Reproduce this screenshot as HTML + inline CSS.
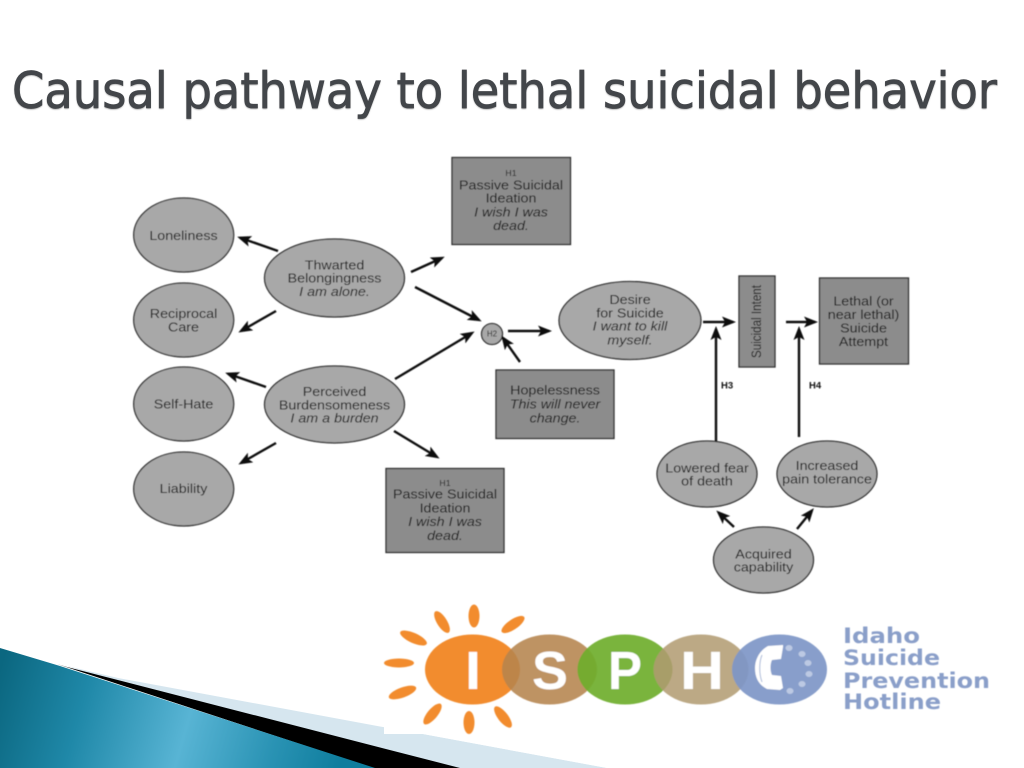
<!DOCTYPE html>
<html>
<head>
<meta charset="utf-8">
<style>
html,body{margin:0;padding:0;background:#fff;width:1024px;height:768px;overflow:hidden}
svg{display:block}
.t{font-family:"Liberation Sans",sans-serif;font-size:13px;fill:#151515;text-anchor:middle}
.i{font-style:italic}
.s{font-size:8px}
.b{font-weight:bold;font-size:9.5px;fill:#111;text-anchor:start}
.logo{font-family:"DejaVu Sans",sans-serif;font-weight:bold;font-size:21px;fill:#8a9fc9}
</style>
</head>
<body>
<svg width="1024" height="768" viewBox="0 0 1024 768" xmlns="http://www.w3.org/2000/svg">
<defs>
<linearGradient id="bg" gradientUnits="userSpaceOnUse" x1="0" y1="670" x2="340" y2="768">
<stop offset="0" stop-color="#0b6780"/>
<stop offset="0.25" stop-color="#1f88a8"/>
<stop offset="0.55" stop-color="#58b4d4"/>
<stop offset="0.8" stop-color="#2a93b4"/>
<stop offset="1" stop-color="#0e7d9d"/>
</linearGradient>
<marker id="a" markerUnits="userSpaceOnUse" markerWidth="16" markerHeight="12" refX="11" refY="6" orient="auto">
<path d="M0,0.5 L14,6 L0,11.5 L3,6 Z" fill="#111"/>
</marker>
<filter id="soft" x="-2%" y="-2%" width="104%" height="104%"><feGaussianBlur stdDeviation="0.4"/></filter>
<filter id="shadow" x="-2%" y="-20%" width="104%" height="140%"><feGaussianBlur stdDeviation="0.9"/></filter>
</defs>

<!-- bottom decoration -->
<polygon points="67,666 118,678 383,727 423,734 607,768 388,768" fill="#d6e6ef"/>
<polygon points="57,664 67,667 460,768 373,768" fill="#000"/>
<polygon points="0,648 60,666 375,768 0,768" fill="url(#bg)"/>
<rect x="384" y="600" width="640" height="134" fill="#fff"/>
<polygon points="423,734 1024,734 1024,768 607,768" fill="#fff"/>

<!-- title -->
<text x="12" y="109" font-family="'DejaVu Sans',sans-serif" font-size="50" fill="#9a9a9a" textLength="985" lengthAdjust="spacingAndGlyphs" filter="url(#shadow)">Causal pathway to lethal suicidal behavior</text>
<text x="12" y="108" font-family="'DejaVu Sans',sans-serif" font-size="50" fill="#43464a" stroke="#43464a" stroke-width="0.8" textLength="985" lengthAdjust="spacingAndGlyphs">Causal pathway to lethal suicidal behavior</text>

<!-- diagram -->
<g filter="url(#soft)">
<g fill="#a8a8a8" stroke="#2a2a2a" stroke-width="1.3">
<ellipse cx="183.7" cy="235" rx="50" ry="37"/>
<ellipse cx="183.7" cy="320" rx="50" ry="37"/>
<ellipse cx="183.7" cy="404" rx="50" ry="37"/>
<ellipse cx="183.7" cy="489" rx="50" ry="37"/>
<ellipse cx="334.5" cy="278" rx="70" ry="39"/>
<ellipse cx="334.5" cy="404.5" rx="70" ry="38.5"/>
<circle cx="492" cy="334" r="10.5"/>
<ellipse cx="630" cy="320.5" rx="71" ry="39"/>
<ellipse cx="707" cy="474" rx="50" ry="33"/>
<ellipse cx="827" cy="474" rx="50" ry="33"/>
<ellipse cx="763.5" cy="560" rx="50" ry="33"/>
</g>
<g fill="#8c8c8c" stroke="#2a2a2a" stroke-width="1.3">
<rect x="452" y="157.5" width="118.5" height="87"/>
<rect x="386" y="468.5" width="118" height="84"/>
<rect x="496" y="370" width="118" height="68.5"/>
<rect x="739" y="276" width="36" height="91"/>
<rect x="819.5" y="278" width="89" height="86"/>
</g>
<g stroke="#111" stroke-width="2.4" fill="none" marker-end="url(#a)">
<line x1="278" y1="251" x2="240" y2="237.7"/>
<line x1="276" y1="311" x2="241" y2="331"/>
<line x1="411" y1="272" x2="442" y2="258"/>
<line x1="415" y1="287" x2="479" y2="320"/>
<line x1="395" y1="379" x2="472" y2="333"/>
<line x1="508" y1="331" x2="549" y2="331"/>
<line x1="520" y1="362" x2="503" y2="338"/>
<line x1="266" y1="387" x2="228" y2="373.7"/>
<line x1="276" y1="443" x2="241" y2="463"/>
<line x1="394" y1="431" x2="437" y2="457"/>
<line x1="703" y1="322" x2="733" y2="322"/>
<line x1="786" y1="322" x2="815" y2="322"/>
<line x1="716" y1="441" x2="716" y2="329"/>
<line x1="799" y1="437" x2="799" y2="329"/>
<line x1="734" y1="527" x2="718.5" y2="512.5"/>
<line x1="797" y1="529" x2="812" y2="510.5"/>
</g>
<g class="t">
<g transform="translate(183.5,0) scale(1.1,1)"><text class="t" y="240">Loneliness</text><text class="t" y="318">Reciprocal</text><text class="t" y="331.5">Care</text><text class="t" y="408.7">Self-Hate</text><text class="t" y="493">Liability</text></g>
<g transform="translate(334.5,0) scale(1.1,1)"><text class="t" y="269.3">Thwarted</text><text class="t" y="282.7">Belongingness</text><text class="t i" y="296">I am alone.</text><text class="t" y="396">Perceived</text><text class="t" y="409.3">Burdensomeness</text><text class="t i" y="422.7">I am a burden</text></g>
<g transform="translate(511,0) scale(1.1,1)"><text class="t s" y="176">H1</text><text class="t" y="189.3">Passive Suicidal</text><text class="t" y="202.7">Ideation</text><text class="t i" y="216.3">I wish I was</text><text class="t i" y="230">dead.</text></g>
<g transform="translate(445,0) scale(1.1,1)"><text class="t s" y="486">H1</text><text class="t" y="498.7">Passive Suicidal</text><text class="t" y="512.7">Ideation</text><text class="t i" y="526">I wish I was</text><text class="t i" y="540">dead.</text></g>
<text class="t s" x="492" y="336.5">H2</text>
<g transform="translate(555,0) scale(1.1,1)"><text class="t" y="394.3">Hopelessness</text><text class="t i" y="408.3">This will never</text><text class="t i" y="422.3">change.</text></g>
<g transform="translate(630,0) scale(1.1,1)"><text class="t" y="304">Desire</text><text class="t" y="317.3">for Suicide</text><text class="t i" y="330.7">I want to kill</text><text class="t i" y="344.7">myself.</text></g>
<text class="t" transform="translate(761,321.5) rotate(-90)" x="-36.5" y="0" style="text-anchor:start;font-size:14px" textLength="73" lengthAdjust="spacingAndGlyphs">Suicidal Intent</text>
<g transform="translate(863.5,0) scale(1.1,1)"><text class="t" y="305.7">Lethal (or</text><text class="t" y="319">near lethal)</text><text class="t" y="332.7">Suicide</text><text class="t" y="346">Attempt</text></g>
<text class="t b" x="721" y="388.5">H3</text>
<text class="t b" x="809" y="388.5">H4</text>
<g transform="translate(707,0) scale(1.1,1)"><text class="t" y="472.3">Lowered fear</text><text class="t" y="485.5">of death</text></g>
<g transform="translate(827,0) scale(1.1,1)"><text class="t" y="470">Increased</text><text class="t" y="483.3">pain tolerance</text></g>
<g transform="translate(763.5,0) scale(1.1,1)"><text class="t" y="558.3">Acquired</text><text class="t" y="571.7">capability</text></g>
</g>
</g>

<!-- logo -->
<g filter="url(#soft)">
<g fill="#f28c2d">
<ellipse cx="474" cy="616" rx="5.5" ry="11.5"/>
<ellipse cx="442" cy="622" rx="5" ry="12.5" transform="rotate(-32 442 622)"/>
<ellipse cx="513" cy="624.5" rx="5" ry="13.5" transform="rotate(56 513 624.5)"/>
<ellipse cx="413.5" cy="638" rx="14.5" ry="5" transform="rotate(24 413.5 638)"/>
<ellipse cx="399" cy="663" rx="15" ry="4.5"/>
<ellipse cx="402.5" cy="692.5" rx="14.5" ry="5" transform="rotate(-20 402.5 692.5)"/>
<ellipse cx="432.5" cy="714" rx="5" ry="13" transform="rotate(40 432.5 714)"/>
<ellipse cx="469" cy="722.5" rx="5.5" ry="11.5"/>
<ellipse cx="503" cy="717" rx="5" ry="13" transform="rotate(-38 503 717)"/>
</g>
<g>
<ellipse cx="472.5" cy="669.5" rx="47.5" ry="35" fill="#f28c2d"/>
<ellipse cx="549.5" cy="669.5" rx="47.5" ry="35" fill="#b5844e" fill-opacity="0.88"/>
<ellipse cx="625" cy="669.5" rx="47.5" ry="35" fill="#6fae2e" fill-opacity="0.92"/>
<ellipse cx="701" cy="669.5" rx="47.5" ry="35" fill="#b09a70" fill-opacity="0.85"/>
<ellipse cx="779.5" cy="669.5" rx="47.5" ry="35" fill="#7f97c7" fill-opacity="0.93"/>
</g>
<g font-family="'Liberation Sans',sans-serif" font-weight="bold" font-size="54" fill="#fff" text-anchor="middle">
<text x="473" y="689" textLength="16" lengthAdjust="spacingAndGlyphs">I</text>
<text x="550" y="689" textLength="36" lengthAdjust="spacingAndGlyphs">S</text>
<text x="625" y="689" textLength="34" lengthAdjust="spacingAndGlyphs">P</text>
<text x="702" y="689" textLength="44" lengthAdjust="spacingAndGlyphs">H</text>
</g>
<path d="M783,645 L768,646 C759,651 755,660 755,668 C755,678 759,685 767,689 L780,690 L783,688 L781,676 L772,675 C770,671 770,664 772,660 L781,659 L783,647 Z" fill="#fff"/>
<path d="M762,655 C759,662 759,674 762,682" fill="none" stroke="#a9b9d8" stroke-width="1"/>
<g fill="#bcc9e3">
<ellipse cx="789" cy="648" rx="3.5" ry="3"/>
<ellipse cx="802" cy="654" rx="3.5" ry="3"/>
<ellipse cx="808" cy="663" rx="3.5" ry="3"/>
<ellipse cx="809" cy="674" rx="3.5" ry="3"/>
<ellipse cx="802" cy="684" rx="3.5" ry="3"/>
<ellipse cx="790" cy="691" rx="3.5" ry="3"/>
</g>
<text class="logo" x="843" y="643" textLength="77" lengthAdjust="spacingAndGlyphs">Idaho</text>
<text class="logo" x="843" y="665" textLength="97" lengthAdjust="spacingAndGlyphs">Suicide</text>
<text class="logo" x="843" y="688" textLength="147" lengthAdjust="spacingAndGlyphs">Prevention</text>
<text class="logo" x="843" y="709" textLength="98" lengthAdjust="spacingAndGlyphs">Hotline</text>
</g>
</svg>
</body>
</html>
